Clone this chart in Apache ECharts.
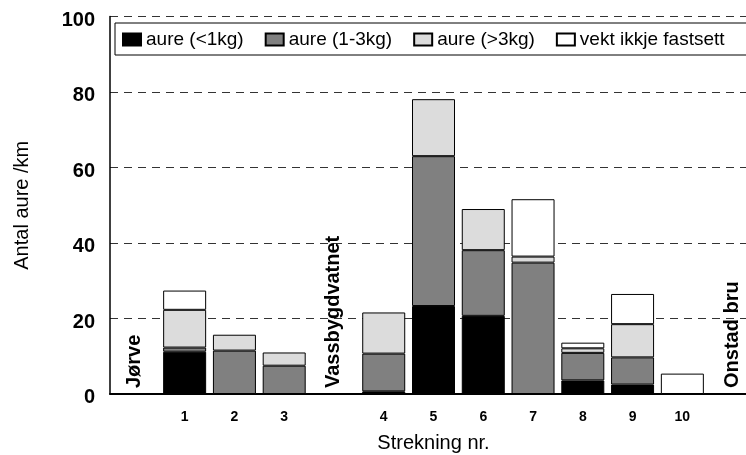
<!DOCTYPE html>
<html>
<head>
<meta charset="utf-8">
<script src="https://cdn.jsdelivr.net/npm/echarts@6/dist/echarts.min.js"></script>
<style>
  html, body { margin: 0; padding: 0; background: #fff; }
  #chart { width: 746px; height: 455px; }
</style>
</head>
<body>
<div id="chart"></div>
<script>
// Stretches along the river; empty slots hold the named reference points
const categories = ['', '1', '2', '3', '', '4', '5', '6', '7', '8', '9', '10', ''];

// Trout per km, by weight class (null = no bar at that slot)
const small  = [null, 11.2, 0,    0,   null, 0.7,  23.3, 20.7, 0,    3.6, 2.5, 0,   null];
const medium = [null, 1.1,  11.5, 7.5, null, 10.0, 39.7, 17.4, 34.8, 7.3, 7.2, 0,   null];
const large  = [null, 10.0, 4.2,  3.5, null, 10.9, 15.1, 10.9, 1.6,  1.2, 8.8, 0,   null];
const unknown = [null, 5.1, 0,    0,   null, 0,    0,    0,    15.2, 1.5, 8.0, 5.4, null];

// Named places along the x axis
const landmarks = [
  { slot: 0,  name: 'Jørve' },
  { slot: 4,  name: 'Vassbygdvatnet' },
  { slot: 12, name: 'Onstad bru' }
];

const seriesNames = ['aure (<1kg)', 'aure (1-3kg)', 'aure (>3kg)', 'vekt ikkje fastsett'];
const seriesColors = ['#000000', '#808080', '#dcdcdc', '#ffffff'];
const yTicks = { min: 0, max: 100, interval: 20 };

const FONT = 'Liberation Sans, Arial, sans-serif';
const toBar = arr => arr.map(v => (v === null || v === 0) ? '-' : v);

const chart = echarts.init(document.getElementById('chart'), null, { renderer: 'canvas' });

const barSeries = [small, medium, large, unknown].map((arr, i) => ({
  name: seriesNames[i],
  type: 'bar',
  stack: 'total',
  barWidth: 43,
  data: toBar(arr),
  itemStyle: { color: seriesColors[i], borderColor: '#000', borderWidth: 1 },
  emphasis: { disabled: true },
  animation: false
}));

chart.setOption({
  animation: false,
  backgroundColor: '#fff',
  textStyle: { fontFamily: FONT },
  grid: {
    left: 110, right: -11, top: 16.5, bottom: 61,
    containLabel: false,
    outerBoundsMode: 'none'
  },
  legend: {
    data: seriesNames.map(n => ({ name: n, icon: 'rect' })),
    left: 115,
    top: 23,
    width: 720,
    orient: 'horizontal',
    itemWidth: 18,
    itemHeight: 12,
    itemGap: 21,
    padding: [7, 30, 6, 7],
    borderColor: '#000',
    borderWidth: 1,
    backgroundColor: '#fff',
    textStyle: { fontFamily: FONT, fontSize: 19, color: '#000' },
    selectedMode: false
  },
  xAxis: {
    type: 'category',
    data: categories,
    name: 'Strekning nr.',
    nameLocation: 'middle',
    nameGap: 39,
    nameTextStyle: { fontFamily: FONT, fontSize: 20, color: '#000' },
    axisLine: { lineStyle: { color: '#000', width: 2 } },
    axisTick: { show: false },
    axisLabel: { interval: 0, fontFamily: FONT, fontWeight: 'bold', fontSize: 14, color: '#000', margin: 16 }
  },
  yAxis: {
    type: 'value',
    min: yTicks.min,
    max: yTicks.max,
    interval: yTicks.interval,
    name: 'Antal aure /km',
    nameLocation: 'middle',
    nameGap: 78,
    nameTextStyle: { fontFamily: FONT, fontSize: 20, color: '#000' },
    axisLine: { show: true, lineStyle: { color: '#000', width: 1.5 } },
    axisTick: { show: false },
    axisLabel: {
      margin: 15,
      formatter: v => '{t|' + v + '}',
      rich: {
        t: {
          fontFamily: FONT, fontWeight: 'bold', fontSize: 20, color: '#000',
          padding: [7, 0, 0, 0]
        }
      }
    },
    splitLine: { show: true, lineStyle: { color: '#333', type: [8, 6], width: 1 } }
  },
  series: [
    ...barSeries,
    {
      name: 'places',
      type: 'scatter',
      symbolSize: 0,
      silent: true,
      itemStyle: { opacity: 1 },
      data: landmarks.map(p => ({ value: [p.slot, 0], name: p.name })),
      label: {
        show: true,
        formatter: p => p.name,
        rotate: 90,
        position: 'inside',
        align: 'left',
        verticalAlign: 'middle',
        padding: [0, 0, 0, 6],
        fontFamily: FONT,
        fontWeight: 'bold',
        fontSize: 20,
        color: '#000',
        opacity: 1,
        textBorderWidth: 0
      },
      z: 5
    }
  ]
});
</script>
</body>
</html>
